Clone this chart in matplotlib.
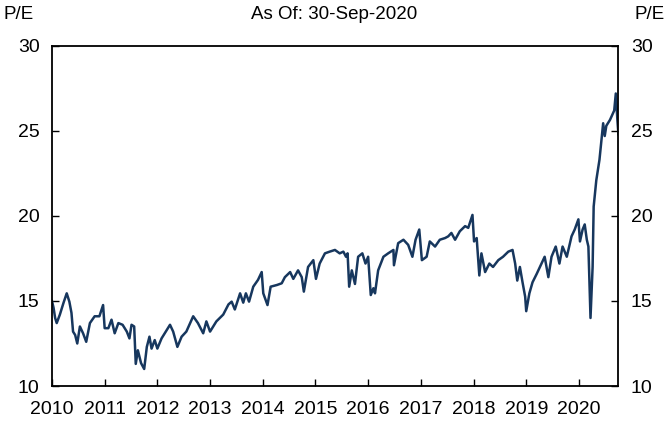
import numpy as np
import matplotlib
matplotlib.use('Agg')
import matplotlib.pyplot as plt

# P/E ratio (decimal year, value)
years = [
    2010.00, 2010.03, 2010.06, 2010.09, 2010.15, 2010.22, 2010.28, 2010.33, 2010.37, 2010.40,
    2010.44, 2010.48, 2010.53, 2010.59, 2010.65, 2010.72, 2010.81, 2010.90, 2010.97, 2011.00,
    2011.07, 2011.13, 2011.19, 2011.26, 2011.34, 2011.42, 2011.47, 2011.51, 2011.56, 2011.59,
    2011.63, 2011.69, 2011.75, 2011.80, 2011.85, 2011.89, 2011.95, 2012.00, 2012.08, 2012.24,
    2012.30, 2012.38, 2012.46, 2012.55, 2012.68, 2012.77, 2012.87, 2012.93, 2013.00, 2013.12,
    2013.25, 2013.35, 2013.41, 2013.47, 2013.57, 2013.63, 2013.68, 2013.74, 2013.82, 2013.91,
    2013.98, 2014.01, 2014.09, 2014.15, 2014.27, 2014.36, 2014.42, 2014.52, 2014.58, 2014.67,
    2014.74, 2014.78, 2014.86, 2014.96, 2015.01, 2015.08, 2015.18, 2015.27, 2015.37, 2015.46,
    2015.53, 2015.58, 2015.61, 2015.64, 2015.69, 2015.75, 2015.81, 2015.89, 2015.95, 2016.00,
    2016.05, 2016.10, 2016.13, 2016.19, 2016.29, 2016.38, 2016.48, 2016.49, 2016.57, 2016.67,
    2016.76, 2016.84, 2016.90, 2016.97, 2017.02, 2017.11, 2017.17, 2017.27, 2017.36, 2017.46,
    2017.52, 2017.58, 2017.65, 2017.74, 2017.84, 2017.90, 2017.98, 2018.01, 2018.06, 2018.11,
    2018.15, 2018.22, 2018.30, 2018.37, 2018.47, 2018.56, 2018.66, 2018.74, 2018.79, 2018.83,
    2018.88, 2018.93, 2018.98, 2019.00, 2019.06, 2019.12, 2019.20, 2019.29, 2019.35, 2019.42,
    2019.48, 2019.56, 2019.63, 2019.69, 2019.77, 2019.86, 2019.92, 2019.99, 2020.02, 2020.07,
    2020.11, 2020.15, 2020.18, 2020.22, 2020.26, 2020.28, 2020.33, 2020.39, 2020.43, 2020.46,
    2020.49, 2020.52, 2020.59, 2020.67, 2020.70, 2020.73, 2020.75,
]
pe = [
    15.0, 14.6, 14.0, 13.7, 14.2, 14.9, 15.45, 14.96, 14.3, 13.2,
    13.0, 12.5, 13.5, 13.1, 12.6, 13.7, 14.1, 14.1, 14.76, 13.4,
    13.4, 13.9, 13.1, 13.7, 13.6, 13.2, 12.8, 13.6, 13.5, 11.3,
    12.1, 11.35, 11.0, 12.3, 12.9, 12.2, 12.7, 12.2, 12.8, 13.6,
    13.2, 12.3, 12.9, 13.2, 14.1, 13.7, 13.1, 13.8, 13.2, 13.8,
    14.2, 14.8, 14.96, 14.5, 15.45, 14.9, 15.45, 14.96, 15.84, 16.24,
    16.7, 15.45, 14.76, 15.84, 15.94, 16.04, 16.4, 16.7, 16.3, 16.8,
    16.4, 15.55, 17.0, 17.4, 16.3, 17.2, 17.8, 17.9, 18.0, 17.8,
    17.9, 17.6, 17.8, 15.84, 16.8, 16.0, 17.6, 17.8, 17.2, 17.6,
    15.35, 15.75, 15.45, 16.8, 17.6, 17.8, 18.0, 17.1, 18.4, 18.6,
    18.3, 17.6, 18.6, 19.2, 17.4, 17.6, 18.5, 18.2, 18.6, 18.7,
    18.8, 19.0, 18.6, 19.1, 19.4, 19.3, 20.06, 18.5, 18.7, 16.5,
    17.8, 16.7, 17.2, 17.0, 17.4, 17.6, 17.9, 18.0, 17.2, 16.2,
    17.0, 16.1, 15.25, 14.4, 15.45, 16.1, 16.6, 17.2, 17.6, 16.4,
    17.6, 18.2, 17.2, 18.2, 17.6, 18.8, 19.2, 19.8, 18.5, 19.2,
    19.5, 18.6, 18.2, 14.0, 17.0, 20.55, 22.1, 23.3, 24.5, 25.45,
    24.7, 25.3, 25.65, 26.2, 27.2, 25.65, 24.8,
]

year_ticks = list(range(2010, 2021))
pe_ticks = [10, 15, 20, 25, 30]

plt.rcParams['font.family'] = ['Liberation Sans', 'DejaVu Sans']

fig = plt.figure(figsize=(6.68, 4.22), dpi=100)
ax = fig.add_axes([0.0778, 0.0853, 0.848, 0.806])

ax.plot(years, pe, color='#17375E', linewidth=1.8)

ax.set_xlim(2010, 2020.75)
ax.set_ylim(10, 30)
ax.set_xticks(year_ticks)
ax.set_xticklabels([str(y) for y in year_ticks])
ax.set_yticks(pe_ticks)

for s in ax.spines.values():
    s.set_linewidth(1.3)
    s.set_color('black')

ax.tick_params(axis='both', direction='in', length=5, width=1, labelsize=14)
ax.tick_params(axis='y', left=True, right=True, labelleft=True, labelright=True, pad=9)
ax.tick_params(axis='x', pad=11)

fig.text(0.005, 0.965, 'P/E', fontsize=13.5, ha='left', va='center')
fig.text(0.995, 0.965, 'P/E', fontsize=13.5, ha='right', va='center')
fig.text(0.5, 0.965, 'As Of: 30-Sep-2020', fontsize=13.5, ha='center', va='center')

fig.savefig('out.png', dpi=100)
